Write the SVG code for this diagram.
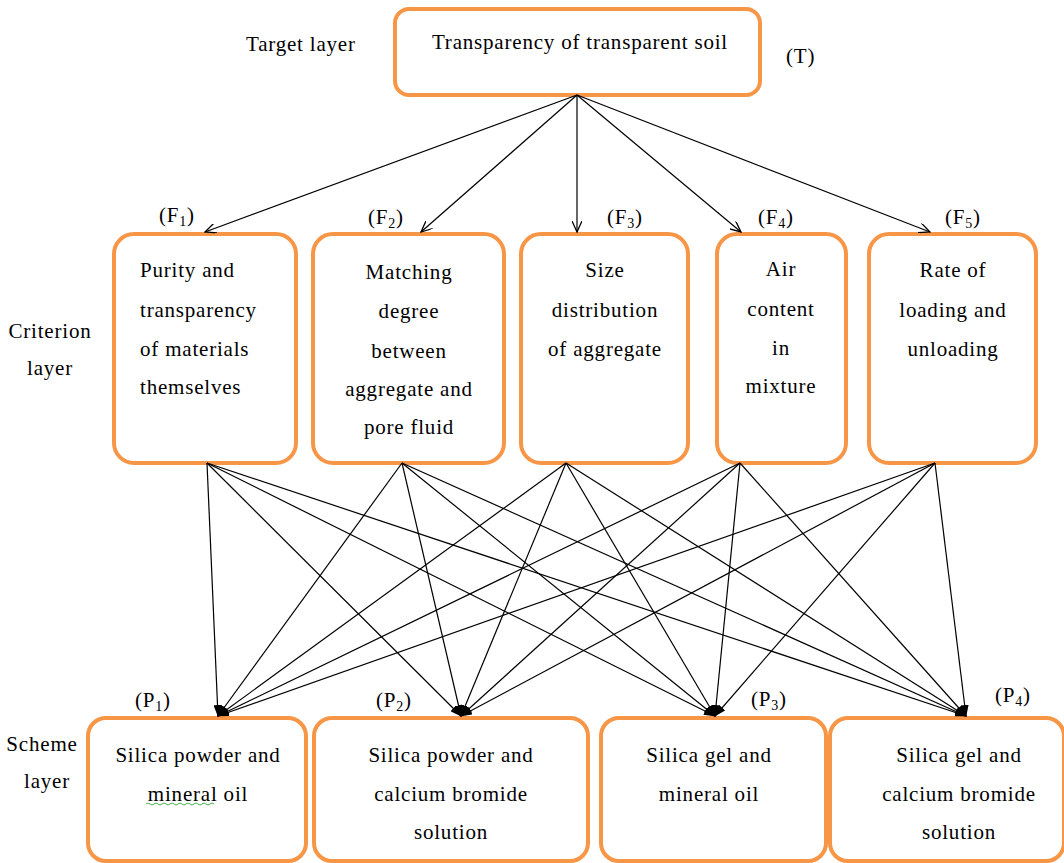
<svg xmlns="http://www.w3.org/2000/svg" width="1064" height="863" viewBox="0 0 1064 863" font-family="'Liberation Serif', 'Times New Roman', serif">
<defs>
<style>
.box{fill:#fff;stroke:#F79646;stroke-width:4}
.t{font-size:21px;letter-spacing:0.8px;fill:#000}
.c{text-anchor:middle}
.sub{font-size:14px}
.ln{stroke:#000;stroke-width:1.2;fill:none}
</style>
<marker id="open" viewBox="0 0 12 10" refX="11" refY="5" markerWidth="12" markerHeight="10" markerUnits="userSpaceOnUse" orient="auto">
<path d="M0,0 L11,5 L0,10" fill="none" stroke="#000" stroke-width="1.3"/>
</marker>
<marker id="solid" viewBox="0 0 12 8" refX="11" refY="4" markerWidth="12" markerHeight="8" markerUnits="userSpaceOnUse" orient="auto">
<path d="M0,0 L12,4 L0,8 Z" fill="#000"/>
</marker>
</defs>
<rect width="1064" height="863" fill="#fff"/>

<g id="labels">
<text class="t" x="246" y="51">Target layer</text>
<text class="t" x="786" y="63">(T)</text>
<text class="t c" x="50" y="338">Criterion</text>
<text class="t c" x="50" y="375">layer</text>
<text class="t c" x="42" y="751">Scheme</text>
<text class="t c" x="47" y="788">layer</text>
<text class="t" x="159" y="222">(F<tspan class="sub" dy="4">1</tspan><tspan dy="-4">)</tspan></text>
<text class="t" x="368" y="224">(F<tspan class="sub" dy="4">2</tspan><tspan dy="-4">)</tspan></text>
<text class="t" x="607" y="224">(F<tspan class="sub" dy="4">3</tspan><tspan dy="-4">)</tspan></text>
<text class="t" x="758" y="224">(F<tspan class="sub" dy="4">4</tspan><tspan dy="-4">)</tspan></text>
<text class="t" x="945" y="224">(F<tspan class="sub" dy="4">5</tspan><tspan dy="-4">)</tspan></text>
<text class="t" x="135" y="707">(P<tspan class="sub" dy="4">1</tspan><tspan dy="-4">)</tspan></text>
<text class="t" x="376" y="707">(P<tspan class="sub" dy="4">2</tspan><tspan dy="-4">)</tspan></text>
<text class="t" x="751" y="706">(P<tspan class="sub" dy="4">3</tspan><tspan dy="-4">)</tspan></text>
<text class="t" x="995" y="702">(P<tspan class="sub" dy="4">4</tspan><tspan dy="-4">)</tspan></text>
</g>

<g id="T">
<rect class="box" x="395" y="9" width="365" height="86" rx="14"/>
<text class="t c" x="580" y="49">Transparency of transparent soil</text>
</g>

<g id="F1">
<rect class="box" x="114" y="234" width="182" height="229" rx="20"/>
<text class="t" x="140" y="277">Purity and</text>
<text class="t" x="140" y="317">transparency</text>
<text class="t" x="140" y="356">of materials</text>
<text class="t" x="140" y="394">themselves</text>
</g>
<g id="F2">
<rect class="box" x="313" y="234" width="191" height="229" rx="20"/>
<text class="t c" x="409" y="279">Matching</text>
<text class="t c" x="409" y="318">degree</text>
<text class="t c" x="409" y="358">between</text>
<text class="t c" x="409" y="396">aggregate and</text>
<text class="t c" x="409" y="434">pore fluid</text>
</g>
<g id="F3">
<rect class="box" x="521" y="234" width="167" height="229" rx="20"/>
<text class="t c" x="605" y="277">Size</text>
<text class="t c" x="605" y="317">distribution</text>
<text class="t c" x="605" y="356">of aggregate</text>
</g>
<g id="F4">
<rect class="box" x="717" y="234" width="129" height="229" rx="20"/>
<text class="t c" x="781" y="276">Air</text>
<text class="t c" x="781" y="316">content</text>
<text class="t c" x="781" y="355">in</text>
<text class="t c" x="781" y="393">mixture</text>
</g>
<g id="F5">
<rect class="box" x="869" y="234" width="167" height="229" rx="20"/>
<text class="t c" x="953" y="277">Rate of</text>
<text class="t c" x="953" y="317">loading and</text>
<text class="t c" x="953" y="356">unloading</text>
</g>

<g id="P1">
<rect class="box" x="88" y="718" width="218" height="143" rx="18"/>
<text class="t c" x="198" y="762">Silica powder and</text>
<text class="t c" x="198" y="801">mineral oil</text>
<path d="M146,804 q2,-2 4,0 t4,0 t4,0 t4,0 t4,0 t4,0 t4,0 t4,0 t4,0 t4,0 t4,0 t4,0 t4,0 t4,0 t4,0 t4,0 t4,0" fill="none" stroke="#4CAF50" stroke-width="1"/>
</g>
<g id="P2">
<rect class="box" x="314" y="718" width="274" height="143" rx="18"/>
<text class="t c" x="451" y="762">Silica powder and</text>
<text class="t c" x="451" y="801">calcium bromide</text>
<text class="t c" x="451" y="839">solution</text>
</g>
<g id="P3">
<rect class="box" x="601" y="718" width="225" height="143" rx="18"/>
<text class="t c" x="709" y="762">Silica gel  and</text>
<text class="t c" x="709" y="801">mineral oil</text>
</g>
<g id="P4">
<rect class="box" x="830" y="718" width="234" height="143" rx="18"/>
<text class="t c" x="959" y="762">Silica gel  and</text>
<text class="t c" x="959" y="801">calcium bromide</text>
<text class="t c" x="959" y="839">solution</text>
</g>

<g id="connectors" class="ln">
<line x1="577" y1="95" x2="205" y2="232" marker-end="url(#open)"/>
<line x1="577" y1="95" x2="421" y2="232" marker-end="url(#open)"/>
<line x1="577" y1="95" x2="577" y2="232" marker-end="url(#open)"/>
<line x1="577" y1="95" x2="741" y2="232" marker-end="url(#open)"/>
<line x1="577" y1="95" x2="930" y2="232" marker-end="url(#open)"/>

<line x1="207" y1="463" x2="218" y2="716" marker-end="url(#solid)"/>
<line x1="207" y1="463" x2="461" y2="716" marker-end="url(#solid)"/>
<line x1="207" y1="463" x2="715" y2="716" marker-end="url(#solid)"/>
<line x1="207" y1="463" x2="966" y2="716" marker-end="url(#solid)"/>
<line x1="402" y1="463" x2="218" y2="716" marker-end="url(#solid)"/>
<line x1="402" y1="463" x2="461" y2="716" marker-end="url(#solid)"/>
<line x1="402" y1="463" x2="715" y2="716" marker-end="url(#solid)"/>
<line x1="402" y1="463" x2="966" y2="716" marker-end="url(#solid)"/>
<line x1="566" y1="463" x2="218" y2="716" marker-end="url(#solid)"/>
<line x1="566" y1="463" x2="461" y2="716" marker-end="url(#solid)"/>
<line x1="566" y1="463" x2="715" y2="716" marker-end="url(#solid)"/>
<line x1="566" y1="463" x2="966" y2="716" marker-end="url(#solid)"/>
<line x1="740" y1="463" x2="218" y2="716" marker-end="url(#solid)"/>
<line x1="740" y1="463" x2="461" y2="716" marker-end="url(#solid)"/>
<line x1="740" y1="463" x2="715" y2="716" marker-end="url(#solid)"/>
<line x1="740" y1="463" x2="966" y2="716" marker-end="url(#solid)"/>
<line x1="935" y1="463" x2="218" y2="716" marker-end="url(#solid)"/>
<line x1="935" y1="463" x2="461" y2="716" marker-end="url(#solid)"/>
<line x1="935" y1="463" x2="715" y2="716" marker-end="url(#solid)"/>
<line x1="935" y1="463" x2="966" y2="716" marker-end="url(#solid)"/>
</g>
</svg>
